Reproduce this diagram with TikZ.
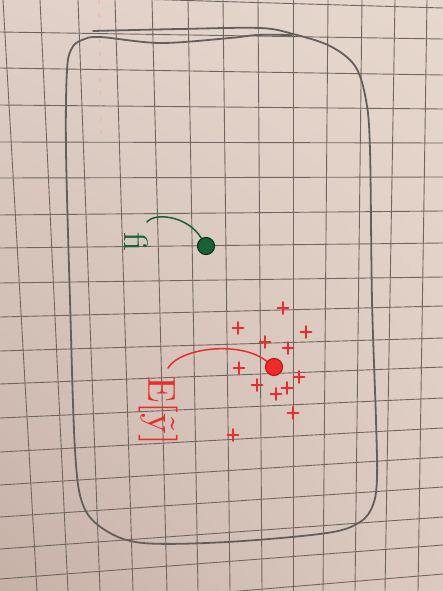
\documentclass[tikz,border=0pt]{standalone}
\usetikzlibrary{shadings,calc}
\begin{document}
\begin{tikzpicture}[x=1pt,y=-1pt,
  gridline/.style={draw=gridc,line width=0.9pt},
  pencil/.style={draw=pencilc,line width=1.8pt,line cap=round,line join=round},
  gdot/.style={circle,fill=greenc,draw=greendark,line width=1.2pt,inner sep=0pt,minimum size=17pt},
  rdot/.style={circle,fill=redc,draw=reddark,line width=1.2pt,inner sep=0pt,minimum size=17pt},
  garc/.style={draw=greenc,line width=1.5pt,line cap=round},
  rarc/.style={draw=redc,line width=1.5pt,line cap=round},
  crossmark/.style={draw=redc,line width=1.8pt,line cap=round},
]
\definecolor{paperUL}{RGB}{224,208,199}
\definecolor{paperUR}{RGB}{231,216,206}
\definecolor{paperLL}{RGB}{198,177,167}
\definecolor{paperLR}{RGB}{220,202,192}
\definecolor{gridc}{RGB}{112,102,97}
\definecolor{pencilc}{RGB}{100,95,92}
\definecolor{greenc}{RGB}{25,98,55}
\definecolor{greendark}{RGB}{12,55,32}
\definecolor{redc}{RGB}{238,42,42}
\definecolor{reddark}{RGB}{195,22,22}
\definecolor{marginc}{RGB}{232,175,165}
\useasboundingbox (0,0) rectangle (443,591);
\shade[upper left=paperUL,upper right=paperUR,lower left=paperLL,lower right=paperLR] (0,0) rectangle (443,591);
% grid: vertical lines
\foreach \a/\b in {3/37,40/68,78/100,115/133,152/167,188/198,223/230,258/262,293/293,328/323,362/355,395/385,427/418}
  \draw[gridline] (\a,0) -- (\b,591);
% grid: horizontal lines
\foreach \a/\b in {-5/8,32/39,68/75,105/109,142/143,178/177,215/211,248/243,283/277,317/306,351/338,384/367,418/398,452/428,485/457,517/487,549/517,579/545,611/574}
  \draw[gridline] (0,\a) -- (443,\b);
% faint margin dashes
\draw[marginc,line width=1.5pt,dash pattern=on 4pt off 9pt,opacity=0.6] (99,0) -- (101,140);
% pencil box
\draw[pencil] plot[smooth,tension=0.55] coordinates {
  (93,31) (180,29) (260,28) (293,34) (330,46) (355,66) (366,100) (370,150)
  (372,300) (376,420) (377,478) (373,505) (360,522) (327,533) (227,542)
  (143,543) (105,530) (83,505) (75,450) (70,300) (66,150) (67,70) (72,48)
  (82,40) (100,37) (160,43) (230,38) (257,35) (292,35)};
% green part
\node[gdot] (gd) at (206,246) {};
\node[text=greenc,rotate=-90,scale=3.4,inner sep=0pt] (gl) at (136,242) {f{}i};
\coordinate (gs) at (147,222);
\draw[garc] (gs) .. controls (155,212) and (188,216) .. (gd);
% red part
\node[rdot] (rd) at (274,367) {};
\node[text=redc,rotate=-90,scale=3.9,inner sep=0pt] (rl) at (158,411) {$\mathrm{E}[\tilde{\mathrm{y}}]$};
\coordinate (rs) at (168,368);
\draw[rarc] (rs) .. controls (180,348) and (240,340) .. (rd);
% red crosses
\foreach \x/\y [count=\i] in {283/308,238/328,306/332,265/342,288/348,239/368,299/377,257/385,287/388,276/394,293/413,233/435}{
  \coordinate (c\i) at (\x,\y);
  \draw[crossmark] ($(c\i)+(-5.5,0)$) -- ($(c\i)+(5.5,0)$);
  \draw[crossmark] ($(c\i)+(0,-6)$) -- ($(c\i)+(0,6)$);
}
\end{tikzpicture}
\end{document}
